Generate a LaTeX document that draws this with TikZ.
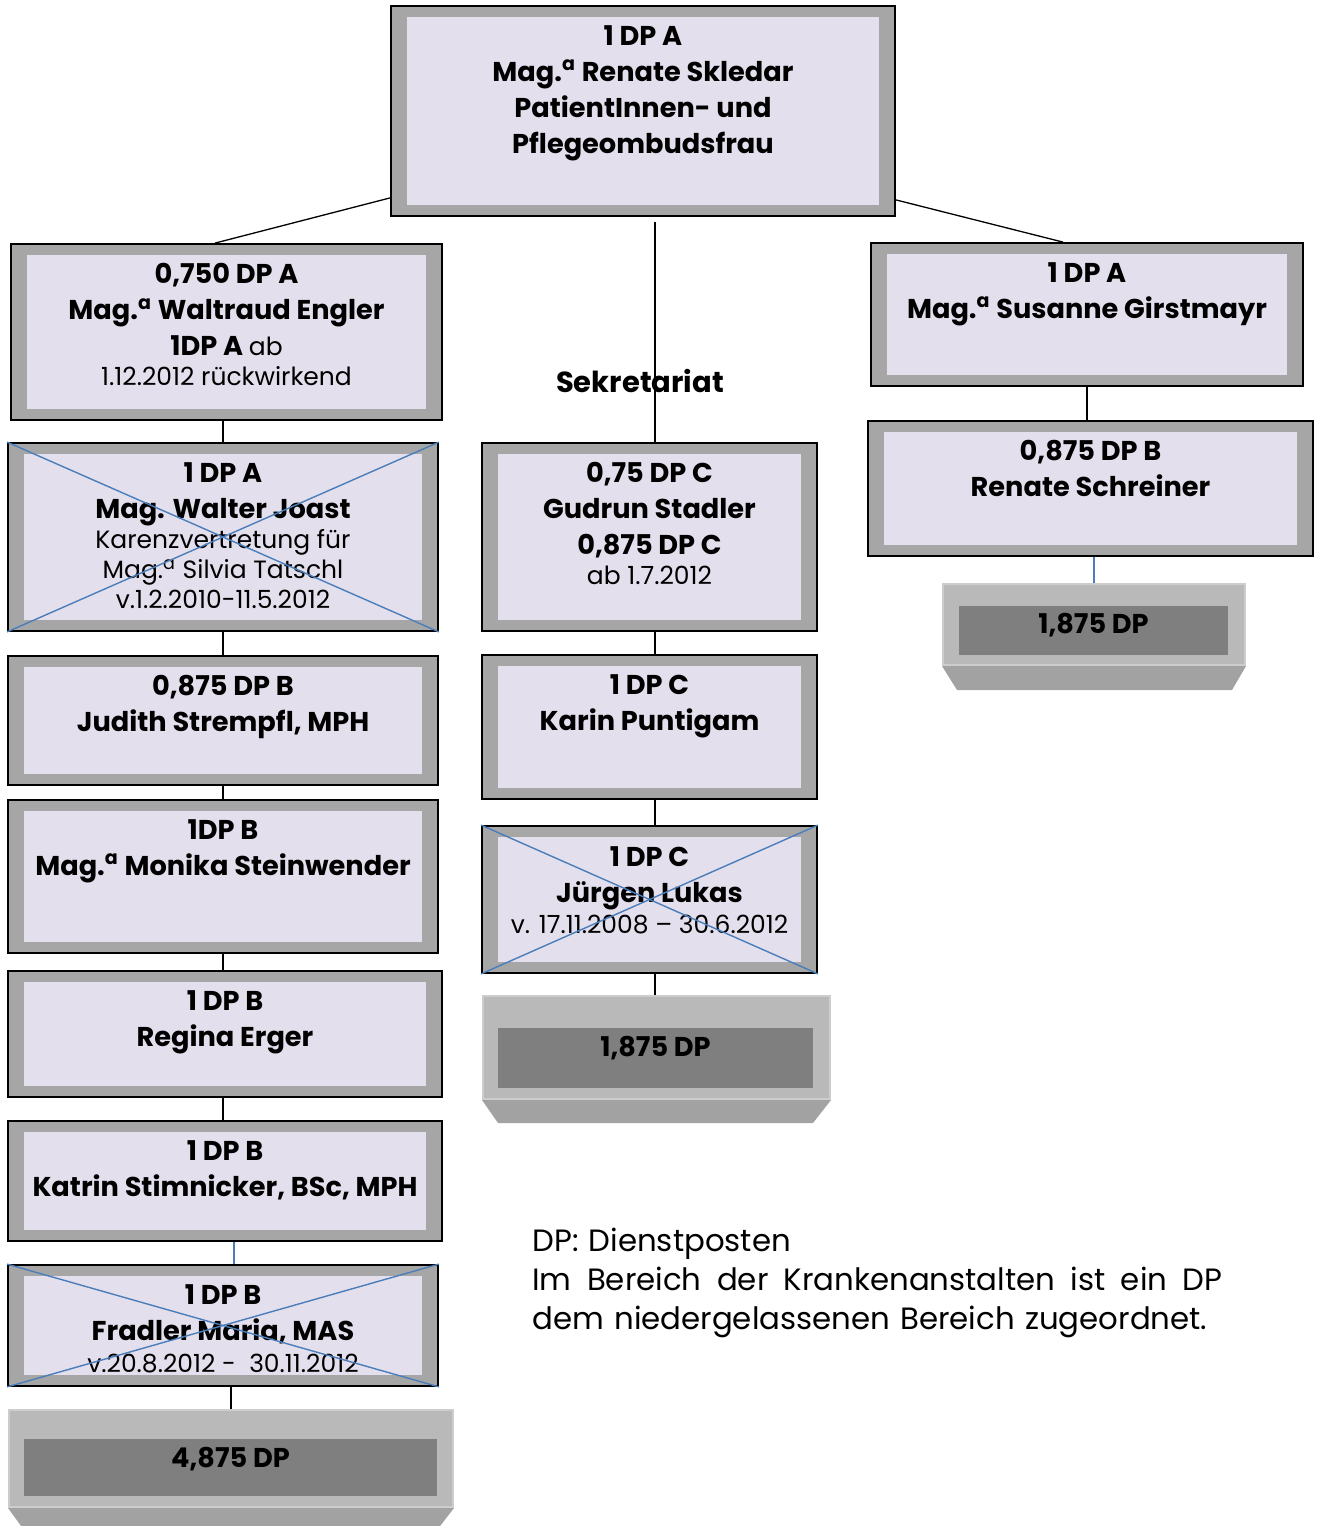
\documentclass[tikz,border=0pt]{standalone}
\usepackage{fontspec}
\setmainfont{Poppins}
\usepackage{tikz}
\usetikzlibrary{fit}
\usetikzlibrary{positioning}
\definecolor{framegray}{HTML}{A6A6A6}
\definecolor{boxfill}{HTML}{E4DFEC}
\definecolor{crossblue}{HTML}{4A7EBB}
\definecolor{sumlight}{HTML}{B9B9B9}
\definecolor{sumedge}{HTML}{CDCDCD}
\definecolor{sumdark}{HTML}{7F7F7F}
\definecolor{sumbase}{HTML}{A2A2A2}
\newcommand{\thintext}[1]{{\mdseries\fontsize{12.5}{18}\selectfont #1}}
\newcommand{\maga}{Mag.\textsuperscript{a}}

\begin{document}
\begin{tikzpicture}[x=0.5pt, y=-0.5pt,
	postbox/.style={draw=black, line width=0.9pt, fill=framegray, inner sep=0pt,
		path picture={\fill[boxfill] ([xshift=8pt,yshift=-5.5pt]path picture bounding box.north west) rectangle ([xshift=-8pt,yshift=5.5pt]path picture bounding box.south east);}},
	boxtext/.style={align=center, inner sep=0pt, font=\bfseries\fontsize{13.6}{18}\selectfont},
	sumbox/.style={fill=sumlight, draw=sumedge, line width=1pt, inner sep=0pt},
	sumcore/.style={fill=sumdark, inner sep=0pt},
	link/.style={line width=0.65pt},
	crossline/.style={draw=crossblue, line width=0.7pt}]
	\useasboundingbox (0,0) rectangle (1319,1526);

	\node[postbox, fit={(391,6) (895,216)}] (T) {};	% head
	\node[boxtext, below=10pt of T.north] (Tt) {1 DP A\\ \maga{} Renate Skledar\\ PatientInnen- und\\ Pflegeombudsfrau};

	\node[postbox, fit={(11,244) (442,420)}] (L1) {};	% left column
	\node[boxtext, below=10pt of L1.north] (L1t) {0,750 DP A\\ \maga{} Waltraud Engler\\ 1DP A \thintext{ab}\\[-3pt] \thintext{1.12.2012 rückwirkend}};
	\node[postbox, fit={(8,443) (438,631)}] (L2) {};
	\node[boxtext, below=10pt of L2.north] (L2t) {1 DP A\\ Mag. Walter Joast\\[-3pt] \thintext{Karenzvertretung für}\\[-3pt] \thintext{\maga{} Silvia Tatschl}\\[-3pt] \thintext{v.1.2.2010-11.5.2012}};
	\node[postbox, fit={(8,656) (438,785)}] (L3) {};
	\node[boxtext, below=10pt of L3.north] (L3t) {0,875 DP B\\ Judith Strempfl, MPH};
	\node[postbox, fit={(8,800) (438,953)}] (L4) {};
	\node[boxtext, below=10pt of L4.north] (L4t) {1DP B\\ \maga{} Monika Steinwender};
	\node[postbox, fit={(8,971) (442,1097)}] (L5) {};
	\node[boxtext, below=10pt of L5.north] (L5t) {1 DP B\\ Regina Erger};
	\node[postbox, fit={(8,1121) (442,1241)}] (L6) {};
	\node[boxtext, below=10pt of L6.north] (L6t) {1 DP B\\ Katrin Stimnicker, BSc, MPH};
	\node[postbox, fit={(8,1265) (438,1386)}] (L7) {};
	\node[boxtext, below=10pt of L7.north] (L7t) {1 DP B\\ Fradler Maria, MAS\\[-2pt] \thintext{v.20.8.2012 -\ \ 30.11.2012}};
	\node[sumbox, fit={(9,1410) (453,1507)}] (L8) {};
	\fill[sumbase] (L8.south west) -- (L8.south east) -- (437,1530) -- (24,1530) -- cycle;
	\node[sumcore, fit={(24,1439) (437,1496)}] (L8c) {};
	\node[boxtext, below=4pt of L8c.north] (L8t) {4,875 DP};

	\node[boxtext, font=\bfseries\fontsize{14.5}{18}\selectfont, anchor=center] (S) at (640,381) {Sekretariat};	% middle column
	\coordinate (secr) at (655,222);
	\node[postbox, fit={(482,443) (817,631)}] (M1) {};
	\node[boxtext, below=10pt of M1.north] (M1t) {0,75 DP C\\ Gudrun Stadler\\ 0,875 DP C\\[-3pt] \thintext{ab 1.7.2012}};
	\node[postbox, fit={(482,655) (817,799)}] (M2) {};
	\node[boxtext, below=10pt of M2.north] (M2t) {1 DP C\\ Karin Puntigam};
	\node[postbox, fit={(482,826) (817,973)}] (M3) {};
	\node[boxtext, below=10.5pt of M3.north] (M3t) {1 DP C\\ Jürgen Lukas\\[-2.5pt] \thintext{v. 17.11.2008 – 30.6.2012}};
	\node[sumbox, fit={(483,996) (830,1099)}] (M4) {};
	\fill[sumbase] (M4.south west) -- (M4.south east) -- (813,1123) -- (498,1123) -- cycle;
	\node[sumcore, fit={(498,1028) (813,1088)}] (M4c) {};
	\node[boxtext, below=4pt of M4c.north] (M4t) {1,875 DP};

	\node[postbox, fit={(871,243) (1303,386)}] (R1) {};	% right column
	\node[boxtext, below=10pt of R1.north] (R1t) {1 DP A\\ \maga{} Susanne Girstmayr};
	\node[postbox, fit={(868,421) (1313,556)}] (R2) {};
	\node[boxtext, below=10pt of R2.north] (R2t) {0,875 DP B\\ Renate Schreiner};
	\node[sumbox, fit={(943,584) (1245,665)}] (R3) {};
	\fill[sumbase] (R3.south west) -- (R3.south east) -- (1232,690) -- (957,690) -- cycle;
	\node[sumcore, fit={(959,606) (1228,655)}] (R3c) {};
	\node[boxtext, below=3.5pt of R3c.north] (R3t) {1,875 DP};

	\node[anchor=north west, inner sep=0pt, text width=345pt, font=\fontsize{15.4}{19.5}\selectfont] (note) at (532,1228)
		{DP: Dienstposten\\ \leavevmode\hbox to 345pt{Im\hfill Bereich\hfill der\hfill Krankenanstalten\hfill ist\hfill ein\hfill DP}\\ dem niedergelassenen Bereich zugeordnet.};

	\draw[link] ([yshift=9.5pt]T.south west) -- ([xshift=-5.75pt]L1.north);	% links
	\draw[link] ([yshift=8.5pt]T.south east) -- ([xshift=-12pt]R1.north);
	\draw[link] (secr) -- (secr |- M1.north);
	\draw[link] (L2.north |- L1.south) -- (L2.north);
	\draw[link] (L2.south) -- (L3.north);
	\draw[link] (L3.south) -- (L4.north);
	\draw[link] (L4.south) -- (L4.south |- L5.north);
	\draw[link] (L4.south |- L5.south) -- (L4.south |- L6.north);
	\draw[link, crossblue] ([xshift=4.5pt]L6.south) -- ([xshift=4.5pt]L6.south |- L7.north);
	\draw[link] (L8.north |- L7.south) -- (L8.north);
	\draw[link] (secr |- M1.south) -- (secr |- M2.north);
	\draw[link] (secr |- M2.south) -- (secr |- M3.north);
	\draw[link] (secr |- M3.south) -- (secr |- M4.north);
	\draw[link] (R1.south) -- (R1.south |- R2.north);
	\draw[link, crossblue] (R3.north |- R2.south) -- (R3.north);

	\draw[crossline] (L2.north west) -- (L2.south east);	% crossed out
	\draw[crossline] (L2.south west) -- (L2.north east);
	\draw[crossline] (L7.north west) -- (L7.south east);
	\draw[crossline] (L7.south west) -- (L7.north east);
	\draw[crossline] (M3.north west) -- (M3.south east);
	\draw[crossline] (M3.south west) -- (M3.north east);
\end{tikzpicture}
\end{document}
